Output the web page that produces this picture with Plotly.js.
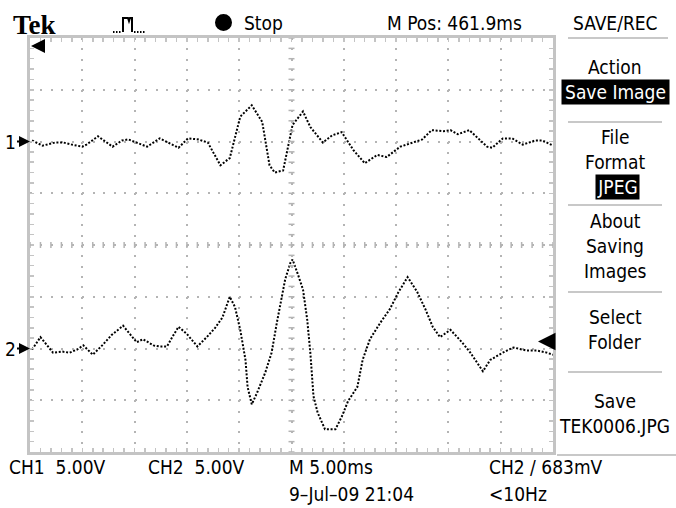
<!DOCTYPE html>
<html>
<head>
<meta charset="utf-8">
<script src="https://cdn.plot.ly/plotly-3.0.1.min.js"></script>
<style>html,body{margin:0;padding:0;background:#fff;}#chart{width:676px;height:508px;}</style>
</head>
<body>
<div id="chart"></div>
<script>
// ---- data (time in ms from left edge of screen, voltage in V) ----
const ch1Time = [0.2,1.2,2.4,3.2,4.0,5.0,5.4,6.5,7.9,8.8,9.4,10.2,11.2,12.4,13.4,14.2,15.1,16.1,17.0,18.2,19.1,20.1,21.2,22.2,22.9,23.4,24.2,24.7,25.1,26.1,26.8,28.0,28.9,29.8,30.9,32.0,33.2,34.1,35.4,36.3,37.5,38.4,39.5,40.2,40.9,42.0,43.7,44.2,45.2,46.1,47.1,48.3,49.0,50.0];
const ch1Volts = [0.1,-0.4,-0.1,-0.1,-0.3,-0.5,-0.3,0.5,-0.5,0.1,0.2,-0.1,-0.5,0.3,-0.2,-0.6,0.3,0.2,-0.1,-2.3,-1.6,2.4,3.5,1.9,-2.3,-3.0,-2.8,-0.5,1.6,2.9,1.4,-0.1,0.6,0.9,-0.8,-2.1,-1.3,-1.5,-0.5,-0.2,0.2,1.1,1.0,1.1,0.7,1.1,-0.5,-0.6,0.3,0.3,-0.3,0.1,0.1,-0.4];
const ch2Time = [0.2,1.0,2.2,3.1,3.8,4.5,5.1,6.0,6.9,7.8,8.9,9.9,10.2,10.8,11.8,12.4,13.1,13.6,14.2,15.0,16.0,16.9,17.7,18.4,19.1,19.6,20.1,20.6,20.8,21.2,21.7,22.5,23.1,23.6,23.9,24.4,24.9,25.1,25.6,26.1,26.5,26.8,27.1,27.5,28.2,29.2,29.8,30.4,31.3,31.8,32.5,33.5,34.4,35.2,36.1,37.0,37.8,38.5,39.2,40.2,41.3,42.1,43.3,44.0,45.2,46.2,47.5,48.5,49.4,50.0];
const ch2Volts = [-0.1,1.1,-0.4,-0.3,-0.4,-0.1,0.3,-0.6,0.3,1.3,2.2,0.9,0.6,0.9,0.3,0.2,0.2,1.1,2.1,1.4,0.2,1.1,2.0,3.0,5.0,4.0,1.8,-1.1,-3.7,-5.4,-4.3,-2.3,-0.4,2.5,4.0,6.7,8.3,8.6,7.2,5.7,2.8,-0.4,-4.6,-6.2,-7.8,-7.8,-6.6,-5.1,-3.7,-1.1,0.9,2.5,3.8,5.4,6.9,5.5,3.8,2.1,1.1,1.8,0.6,-0.4,-2.2,-1.1,-0.4,0.1,-0.2,-0.2,-0.4,-0.6];
const voltsPerDiv = 5.0;       // CH1 5.00V, CH2 5.00V
const msPerDiv = 5.0;          // M 5.00ms
const ch1Offset = 2;           // divisions
const ch2Offset = -2;          // divisions
const triggerLevel = 0.683;    // CH2 683mV
const statusTop = ["Stop", "M Pos: 461.9ms"];
const menuTitle = "SAVE/REC";
const menuItems = ["Action", "Save Image", "File", "Format", "JPEG", "About", "Saving", "Images", "Select", "Folder", "Save", "TEK0006.JPG"];
const bottomLabels = ["CH1  5.00V", "CH2  5.00V", "M 5.00ms", "CH2 / 683mV", "9\u2013Jul\u201309 21:04", "<10Hz"];

// ---- geometry ----
const W = 676, H = 508, L = 30, R = 553, T = 38, B = 452;
const PW = R - L, PH = B - T;
const px = x => (x - L) / PW;
const py = y => (B - y) / PH;
const F = "'Liberation Sans Narrow','DejaVu Sans Condensed','Roboto Condensed',Roboto,sans-serif";
const FS = 19;

const toDiv = (arr, off) => arr.map(v => v / voltsPerDiv + off);

const traceStyle = {mode: 'lines', line: {color: '#000', width: 2, dash: '2px,1.7px'}, hoverinfo: 'skip', showlegend: false};
const data = [
  Object.assign({x: ch1Time, y: toDiv(ch1Volts, ch1Offset), name: 'CH1'}, traceStyle),
  Object.assign({x: ch2Time, y: toDiv(ch2Volts, ch2Offset), name: 'CH2'}, traceStyle)
];

const gridCol = '#b4b4b4', borderCol = '#c4c4c4';
const xDiv = 10, yDiv = 8;
const xMax = xDiv * msPerDiv;

function ann(text, x, y, o) {
  return Object.assign({text: text, xref: 'paper', yref: 'paper', x: px(x), y: py(y), xanchor: 'left', yanchor: 'middle',
    showarrow: false, font: {family: F, size: FS, color: '#000'}}, o || {});
}

const arrowStyle = {showarrow: true, arrowhead: 2, arrowsize: 1.1, arrowwidth: 2, arrowcolor: '#000', standoff: 0};

const annotations = [
  ann('<b>Tek</b>', 11, 25, {font: {family: "'Liberation Serif','DejaVu Serif',serif", size: 27, color: '#000'}}),
  ann(statusTop[0], 242, 23),
  ann(statusTop[1], 385, 23),
  ann(menuTitle, 615, 23, {xanchor: 'center'}),
  ann(menuItems[0], 615, 67, {xanchor: 'center'}),
  ann(menuItems[1], 615, 92, {xanchor: 'center', bgcolor: '#000', font: {family: F, size: FS, color: '#fff'}, width: 105, height: 22}),
  ann(menuItems[2], 615, 137, {xanchor: 'center'}),
  ann(menuItems[3], 615, 162, {xanchor: 'center'}),
  ann(menuItems[4], 617, 187, {xanchor: 'center', bgcolor: '#000', font: {family: F, size: FS, color: '#fff'}, width: 41, height: 22}),
  ann(menuItems[5], 615, 221, {xanchor: 'center'}),
  ann(menuItems[6], 615, 246, {xanchor: 'center'}),
  ann(menuItems[7], 615, 271, {xanchor: 'center'}),
  ann(menuItems[8], 615, 317, {xanchor: 'center'}),
  ann(menuItems[9], 615, 342, {xanchor: 'center'}),
  ann(menuItems[10], 615, 401, {xanchor: 'center'}),
  ann(menuItems[11], 614, 426, {xanchor: 'center'}),
  ann(bottomLabels[0], 7, 467),
  ann(bottomLabels[1], 146, 467),
  ann(bottomLabels[2], 287, 467),
  ann(bottomLabels[3], 487, 467),
  ann(bottomLabels[4], 287, 494),
  ann(bottomLabels[5], 487, 494),
  // channel ground markers
  Object.assign({text: '1', xref: 'x', yref: 'y', x: 0, y: ch1Offset, ax: -20, ay: 0, font: {family: F, size: FS, color: '#000'}}, arrowStyle),
  Object.assign({text: '2', xref: 'x', yref: 'y', x: 0, y: ch2Offset, ax: -20, ay: 0, font: {family: F, size: FS, color: '#000'}}, arrowStyle),
  // trigger position (off screen to the left)
  Object.assign({text: ' ', xref: 'paper', yref: 'paper', x: px(31), y: py(46), ax: 13, ay: 0, font: {size: 1}}, arrowStyle, {arrowsize: 1.4}),
  // trigger level marker (CH2)
  Object.assign({text: ' ', xref: 'x', yref: 'y', x: px(538) * xMax, y: triggerLevel / voltsPerDiv + ch2Offset, ax: 15, ay: 0, font: {size: 1}}, arrowStyle, {arrowwidth: 2.5, arrowsize: 1.4})
];

const shapes = [];
// centre graticule ticks
for (let i = 0; i <= xDiv * 5; i++) {
  shapes.push({type: 'line', xref: 'x', yref: 'y', x0: i * msPerDiv / 5, x1: i * msPerDiv / 5, ysizemode: 'pixel', yanchor: 0, y0: -3, y1: 3, line: {color: gridCol, width: 1.5}});
}
for (let j = -yDiv / 2 * 5; j <= yDiv / 2 * 5; j++) {
  shapes.push({type: 'line', xref: 'x', yref: 'y', xsizemode: 'pixel', xanchor: xMax / 2, x0: -3, x1: 3, y0: j / 5, y1: j / 5, line: {color: gridCol, width: 1.5}});
}
// menu separators
[38, 122, 205, 292, 372, 455].forEach((y, k) => {
  shapes.push({type: 'line', xref: 'paper', yref: 'paper', x0: px(k === 5 ? 557 : 568), x1: px(k === 0 ? 668 : (k === 5 ? 676 : 662)), y0: py(y), y1: py(y), line: {color: '#c8c8c8', width: 2}});
});
// Stop dot
shapes.push({type: 'circle', xref: 'paper', yref: 'paper', x0: px(215), x1: px(232), y0: py(31), y1: py(14), fillcolor: '#000', line: {color: '#000', width: 0}});
// acquisition icon
shapes.push({type: 'path', xref: 'paper', yref: 'paper', path: `M${px(123)},${py(32)} L${px(123)},${py(18)} L${px(128)},${py(18)} L${px(129)},${py(21)} L${px(130)},${py(18)} L${px(132)},${py(18)} L${px(132)},${py(32)}`, line: {color: '#000', width: 2}});
shapes.push({type: 'line', xref: 'paper', yref: 'paper', x0: px(113), x1: px(122), y0: py(32), y1: py(32), line: {color: '#000', width: 2, dash: '1.5px,1.5px'}});
shapes.push({type: 'line', xref: 'paper', yref: 'paper', x0: px(134), x1: px(145), y0: py(32), y1: py(32), line: {color: '#000', width: 2, dash: '1.5px,1.5px'}});

const layout = {
  width: W, height: H,
  margin: {l: L, r: W - R, t: T, b: H - B, pad: 0},
  paper_bgcolor: '#fff', plot_bgcolor: '#fff',
  showlegend: false,
  xaxis: {range: [0, xMax], dtick: msPerDiv, tick0: 0, showgrid: true, gridcolor: gridCol, gridwidth: 2, griddash: '2px,8.35px',
    showline: true, linecolor: borderCol, linewidth: 3, mirror: 'allticks', ticks: 'inside', ticklen: 4, tickcolor: borderCol, tickwidth: 1.5,
    minor: {dtick: msPerDiv / 5, ticks: 'inside', ticklen: 4, tickcolor: borderCol, tickwidth: 1.5, showgrid: false},
    showticklabels: false, zeroline: false, fixedrange: true},
  yaxis: {range: [-yDiv / 2, yDiv / 2], dtick: 1, tick0: 0, showgrid: true, gridcolor: gridCol, gridwidth: 2, griddash: '2px,8.46px',
    showline: true, linecolor: borderCol, linewidth: 3, mirror: 'allticks', ticks: 'inside', ticklen: 4, tickcolor: borderCol, tickwidth: 1.5,
    minor: {dtick: 0.2, ticks: 'inside', ticklen: 4, tickcolor: borderCol, tickwidth: 1.5, showgrid: false},
    showticklabels: false, zeroline: false, fixedrange: true},
  annotations: annotations,
  shapes: shapes
};

Plotly.newPlot('chart', data, layout, {staticPlot: true, displayModeBar: false});
</script>
</body>
</html>
